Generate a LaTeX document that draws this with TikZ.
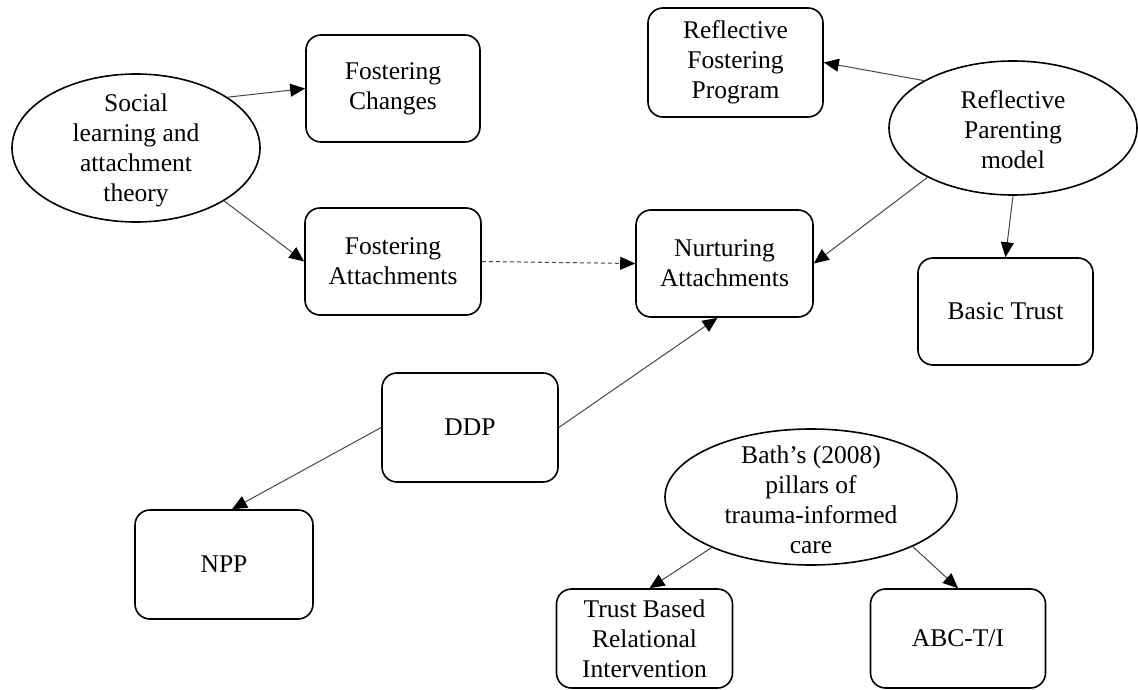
\documentclass[tikz,border=0pt]{standalone}
\usepackage{fontspec}
\setmainfont{Liberation Serif}
\usetikzlibrary{shapes.geometric,arrows.meta}
\begin{document}
\begin{tikzpicture}[x=1pt,y=-1pt,
  every node/.style={font=\fontsize{25.5}{30}\selectfont},
  box/.style={draw, line width=1.6pt, rounded corners=15pt, align=center, inner sep=0pt},
  ell/.style={draw, ellipse, line width=1.6pt, inner sep=0pt},
  txt/.style={align=center, inner sep=0pt},
  conn/.style={draw=black!72, line width=1pt, -{Triangle[length=15pt,width=13pt,color=black]}}]
\useasboundingbox (0,0) rectangle (1138,690);

% boxes
\node[box, minimum width=174pt, minimum height=107pt] (fc) at (393,88.5) {Fostering\\Changes};
\node[box, minimum width=176pt, minimum height=107pt] (fa) at (393,261.5) {Fostering\\Attachments};
\node[box, minimum width=177pt, minimum height=107pt] (na) at (724.5,263.5) {Nurturing\\Attachments};
\node[box, minimum width=175pt, minimum height=109pt] (rfp) at (735.5,62.5) {Reflective\\Fostering\\Program};
\node[box, minimum width=175pt, minimum height=107pt] (bt) at (1005.5,311.5) {Basic Trust};
\node[box, minimum width=176pt, minimum height=109pt] (ddp) at (470,427.5) {DDP};
\node[box, minimum width=178pt, minimum height=109pt] (npp) at (224,564.5) {NPP};
\node[box, minimum width=176pt, minimum height=99pt] (tbri) at (644.5,638.5) {Trust Based\\Relational\\Intervention};
\node[box, minimum width=175pt, minimum height=99pt] (abc) at (958,638.5) {ABC-T/I};

% ellipses
\node[ell, minimum width=248pt, minimum height=148pt] (soc) at (136,148) {};
\node[txt] (soct) at (136,150) {Social\\learning and\\attachment\\theory};
\node[ell, minimum width=248pt, minimum height=134pt] (rp) at (1013,128) {};
\node[txt] (rpt) at (1013,130) {Reflective\\Parenting\\model};
\node[ell, minimum width=292pt, minimum height=136pt] (bath) at (811,497) {};
\node[txt] (batht) at (811,500) {Bath’s (2008)\\pillars of\\trauma-informed\\care};

% connectors
\draw[conn] (soc.29) -- (fc.west);
\draw[conn] (soc.-31) -- (fa.west);
\draw[conn, dash pattern=on 4pt off 3pt] (fa.east) -- (na.west);
\draw[conn] (rp.152) -- (rfp.east);
\draw[conn] (rp.-150) -- (na.east);
\draw[conn] (rp.south) -- (bt.north);
\draw[conn] (ddp.east) -- ([xshift=-7pt]na.south);
\draw[conn] (ddp.west) -- ([xshift=8pt]npp.north);
\draw[conn] (bath.207) -- ([xshift=5pt]tbri.north);
\draw[conn] (bath.-26) -- (abc.north);
\end{tikzpicture}
\end{document}
